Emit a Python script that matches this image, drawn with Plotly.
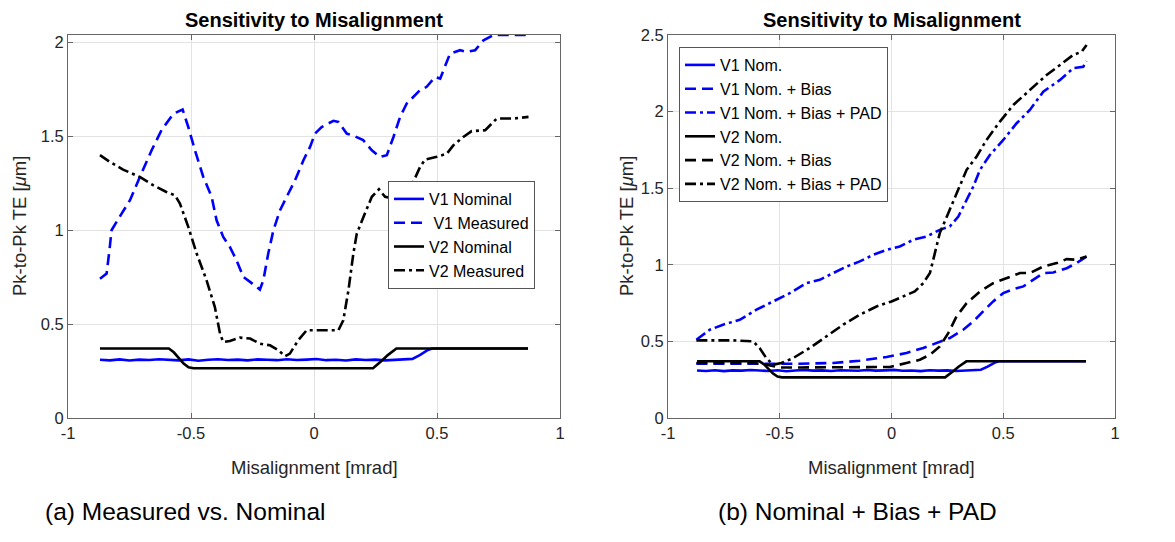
import plotly.graph_objects as go

# ---------------- data ----------------
# nominal curves (shared by both panels)
x_v1_nom = [-0.87, -0.83, -0.79, -0.75, -0.71, -0.67, -0.63, -0.59, -0.55, -0.51, -0.47, -0.43,
            -0.39, -0.35, -0.31, -0.27, -0.23, -0.19, -0.15, -0.11, -0.07, -0.03, 0.01, 0.05,
            0.09, 0.13, 0.17, 0.21, 0.25, 0.29, 0.33, 0.37, 0.40, 0.43, 0.46, 0.48, 0.87]
y_v1_nom = [0.310, 0.307, 0.312, 0.306, 0.311, 0.309, 0.313, 0.310, 0.307, 0.312, 0.305, 0.310,
            0.313, 0.309, 0.311, 0.307, 0.312, 0.310, 0.308, 0.313, 0.309, 0.311, 0.314, 0.308,
            0.310, 0.306, 0.312, 0.309, 0.311, 0.307, 0.310, 0.312, 0.315, 0.335, 0.360, 0.370, 0.370]

x_v2_nom = [-0.87, -0.59, -0.57, -0.55, -0.53, -0.51, -0.49, 0.24, 0.26, 0.28, 0.30, 0.32, 0.335, 0.87]
y_v2_nom = [0.370, 0.370, 0.350, 0.320, 0.290, 0.270, 0.265, 0.265, 0.285, 0.310, 0.335, 0.355, 0.370, 0.370]

# panel (a): measured
x_v1_meas = [-0.870, -0.843, -0.830, -0.823, -0.782, -0.748, -0.708, -0.660, -0.620, -0.572, -0.534,
             -0.511, -0.484, -0.450, -0.416, -0.396, -0.369, -0.342, -0.315, -0.287, -0.260, -0.220,
             -0.206, -0.186, -0.165, -0.138, -0.111, -0.077, -0.043, -0.016, 0.004, 0.031, 0.079,
             0.099, 0.133, 0.167, 0.200, 0.235, 0.268, 0.296, 0.323, 0.350, 0.377, 0.404, 0.431,
             0.458, 0.492, 0.513, 0.526, 0.553, 0.594, 0.621, 0.655, 0.689, 0.730, 0.852, 0.872]
y_v1_meas = [0.742, 0.769, 0.911, 1.000, 1.089, 1.160, 1.284, 1.426, 1.533, 1.620, 1.643,
             1.550, 1.426, 1.284, 1.178, 1.053, 0.964, 0.911, 0.840, 0.751, 0.725, 0.684,
             0.733, 0.876, 1.000, 1.107, 1.178, 1.266, 1.373, 1.444, 1.515, 1.550, 1.583,
             1.577, 1.515, 1.500, 1.480, 1.426, 1.390, 1.400, 1.497, 1.604, 1.675, 1.710, 1.746,
             1.764, 1.817, 1.808, 1.852, 1.941, 1.959, 1.950, 1.959, 2.012, 2.040, 2.040, 2.040]

x_v2_meas = [-0.870, -0.830, -0.776, -0.708, -0.654, -0.600, -0.565, -0.545, -0.511, -0.477, -0.437,
             -0.403, -0.382, -0.369, -0.342, -0.301, -0.260, -0.220, -0.179, -0.145, -0.118, -0.098,
             -0.064, -0.030, 0.024, 0.099, 0.119, 0.140, 0.160, 0.174, 0.201, 0.235, 0.264, 0.289,
             0.320, 0.350, 0.380, 0.404, 0.431, 0.452, 0.499, 0.540, 0.567, 0.607, 0.641, 0.696,
             0.743, 0.811, 0.872]
y_v2_meas = [1.400, 1.364, 1.323, 1.284, 1.240, 1.204, 1.186, 1.142, 1.018, 0.876, 0.734,
             0.591, 0.449, 0.405, 0.410, 0.428, 0.423, 0.396, 0.387, 0.361, 0.329, 0.343,
             0.414, 0.467, 0.467, 0.467, 0.520, 0.680, 0.876, 0.982, 1.071, 1.178, 1.218, 1.178,
             1.170, 1.185, 1.220, 1.258, 1.337, 1.377, 1.391, 1.408, 1.453, 1.497, 1.528, 1.533,
             1.595, 1.595, 1.604]

# panel (b): nominal + bias (+ PAD)
x_v1_bias = [-0.873, -0.784, -0.600, -0.410, -0.261, -0.142, -0.022, 0.067, 0.142, 0.201, 0.261,
             0.321, 0.366, 0.410, 0.455, 0.500, 0.545, 0.590, 0.634, 0.679, 0.724, 0.784, 0.828, 0.873]
y_v1_bias = [0.354, 0.354, 0.352, 0.354, 0.359, 0.374, 0.398, 0.424, 0.457, 0.489, 0.522,
             0.576, 0.630, 0.696, 0.761, 0.815, 0.841, 0.859, 0.902, 0.946, 0.950, 0.978, 1.011, 1.054]

x_v1_pad = [-0.873, -0.813, -0.754, -0.679, -0.604, -0.530, -0.455, -0.381, -0.321, -0.261, -0.201,
            -0.142, -0.082, -0.022, 0.037, 0.097, 0.157, 0.216, 0.261, 0.299, 0.336, 0.366, 0.396,
            0.440, 0.500, 0.560, 0.619, 0.679, 0.754, 0.813, 0.858, 0.873]
y_v1_pad = [0.511, 0.576, 0.609, 0.641, 0.707, 0.761, 0.815, 0.880, 0.902, 0.946, 0.989,
            1.022, 1.065, 1.098, 1.120, 1.163, 1.185, 1.228, 1.250, 1.315, 1.424, 1.511, 1.620,
            1.717, 1.815, 1.924, 2.011, 2.130, 2.207, 2.283, 2.293, 2.330]

x_v2_bias = [-0.873, -0.619, -0.560, -0.500, -0.410, -0.261, -0.112, -0.007, 0.067, 0.127, 0.172,
             0.216, 0.254, 0.291, 0.336, 0.396, 0.455, 0.515, 0.575, 0.619, 0.679, 0.739, 0.784,
             0.828, 0.873]
y_v2_bias = [0.359, 0.359, 0.348, 0.330, 0.330, 0.330, 0.330, 0.333, 0.359, 0.380, 0.413,
             0.467, 0.554, 0.663, 0.750, 0.826, 0.880, 0.913, 0.946, 0.946, 0.989, 1.011, 1.037,
             1.033, 1.054]

x_v2_pad = [-0.873, -0.709, -0.619, -0.590, -0.560, -0.530, -0.493, -0.440, -0.366, -0.291, -0.216,
            -0.142, -0.067, 0.000, 0.052, 0.104, 0.142, 0.172, 0.194, 0.216, 0.254, 0.291, 0.336,
            0.381, 0.425, 0.485, 0.545, 0.619, 0.694, 0.754, 0.813, 0.851, 0.873]
y_v2_pad = [0.507, 0.507, 0.500, 0.457, 0.391, 0.348, 0.359, 0.391, 0.457, 0.533, 0.609,
            0.674, 0.728, 0.761, 0.793, 0.826, 0.880, 0.946, 1.076, 1.207, 1.337, 1.467, 1.620,
            1.707, 1.815, 1.935, 2.043, 2.141, 2.239, 2.304, 2.370, 2.391, 2.435]

x_ticks = [-1, -0.5, 0, 0.5, 1]
x_ticktext = ["-1", "-0.5", "0", "0.5", "1"]
y_ticks_a = [0, 0.5, 1, 1.5, 2]
y_ticktext_a = ["0", "0.5", "1", "1.5", "2"]
y_ticks_b = [0, 0.5, 1, 1.5, 2, 2.5]
y_ticktext_b = ["0", "0.5", "1", "1.5", "2", "2.5"]

# ---------------- styling ----------------
OFF = 8                      # default page (body) margin of the browser
W, H = 1175 - OFF, 542 - OFF
FONT = "Liberation Sans, Arial, sans-serif"
BLUE = "#0000ff"
BLACK = "#000000"
LW = 2.6
DASH = "11px,6px"
DASHDOT = "11px,4px,3px,4px"

fig = go.Figure()

def add(x, y, name, color, dash, xa, ya, legend):
    fig.add_trace(go.Scatter(x=x, y=y, mode="lines", name=name,
                             line=dict(color=color, width=LW, dash=dash),
                             xaxis=xa, yaxis=ya, legend=legend))

# panel (a)
add(x_v1_nom, y_v1_nom, "V1 Nominal", BLUE, "solid", "x", "y", "legend")
add(x_v1_meas, y_v1_meas, " V1 Measured", BLUE, DASH, "x", "y", "legend")
add(x_v2_nom, y_v2_nom, "V2 Nominal", BLACK, "solid", "x", "y", "legend")
add(x_v2_meas, y_v2_meas, "V2 Measured", BLACK, DASHDOT, "x", "y", "legend")

# panel (b)
add(x_v1_nom, y_v1_nom, "V1 Nom.", BLUE, "solid", "x2", "y2", "legend2")
add(x_v1_bias, y_v1_bias, "V1 Nom. + Bias", BLUE, DASH, "x2", "y2", "legend2")
add(x_v1_pad, y_v1_pad, "V1 Nom. + Bias + PAD", BLUE, DASHDOT, "x2", "y2", "legend2")
add(x_v2_nom, y_v2_nom, "V2 Nom.", BLACK, "solid", "x2", "y2", "legend2")
add(x_v2_bias, y_v2_bias, "V2 Nom. + Bias", BLACK, DASH, "x2", "y2", "legend2")
add(x_v2_pad, y_v2_pad, "V2 Nom. + Bias + PAD", BLACK, DASHDOT, "x2", "y2", "legend2")

axis_common = dict(showgrid=True, gridcolor="#e3e3e3", gridwidth=1, zeroline=False,
                   showline=True, linecolor="#666666", linewidth=1, mirror="ticks",
                   ticks="inside", ticklen=5, tickcolor="#666666", automargin=False,
                   tickfont=dict(family=FONT, size=16.5, color="#262626"))

def px_x(p):
    return (p - OFF) / W

def px_y(p):
    return 1 - (p - OFF) / H

fig.update_layout(
    width=W, height=H,
    margin=dict(l=0, r=0, t=0, b=0, pad=0),
    paper_bgcolor="white", plot_bgcolor="white",
    showlegend=True,
    xaxis=dict(domain=[px_x(68), px_x(560)], range=[-1, 1], tickvals=x_ticks, ticktext=x_ticktext,
               anchor="y", **axis_common),
    yaxis=dict(domain=[px_y(418), px_y(35)], range=[0, 2.04], tickvals=y_ticks_a, ticktext=y_ticktext_a,
               anchor="x", **axis_common),
    xaxis2=dict(domain=[px_x(668), px_x(1115)], range=[-1, 1], tickvals=x_ticks, ticktext=x_ticktext,
                anchor="y2", **axis_common),
    yaxis2=dict(domain=[px_y(418), px_y(35)], range=[0, 2.5], tickvals=y_ticks_b, ticktext=y_ticktext_b,
                anchor="x2", **axis_common),
    legend=dict(x=px_x(388), y=px_y(181), xanchor="left", yanchor="top",
                bgcolor="white", bordercolor="#555555", borderwidth=1,
                font=dict(family=FONT, size=16, color="black"), tracegroupgap=0),
    legend2=dict(x=px_x(679), y=px_y(47), xanchor="left", yanchor="top",
                 bgcolor="white", bordercolor="#555555", borderwidth=1,
                 font=dict(family=FONT, size=16, color="black"), tracegroupgap=0),
)

def ann(text, xp, yp, size, bold=False, angle=0, color="#262626"):
    if bold:
        text = "<b>" + text + "</b>"
    fig.add_annotation(text=text, x=px_x(xp), y=px_y(yp), xref="paper", yref="paper",
                       showarrow=False, xanchor="center", yanchor="middle", textangle=angle,
                       font=dict(family=FONT, size=size, color=color))

# titles
ann("Sensitivity to Misalignment", 314, 20, 20, bold=True, color="black")
ann("Sensitivity to Misalignment", 891.5, 20, 20, bold=True, color="black")
# axis titles
ann("Misalignment [mrad]", 314, 467, 18.5)
ann("Misalignment [mrad]", 891.5, 467, 18.5)
ann("Pk-to-Pk TE [<i>μ</i>m]", 19, 226, 18.5, angle=-90)
ann("Pk-to-Pk TE [<i>μ</i>m]", 626, 226, 18.5, angle=-90)
# sub-captions
ann("(a) Measured vs. Nominal", 185, 511, 24.5, color="black")
ann("(b) Nominal + Bias + PAD", 857, 511, 24.5, color="black")

fig.write_html("out.html")
